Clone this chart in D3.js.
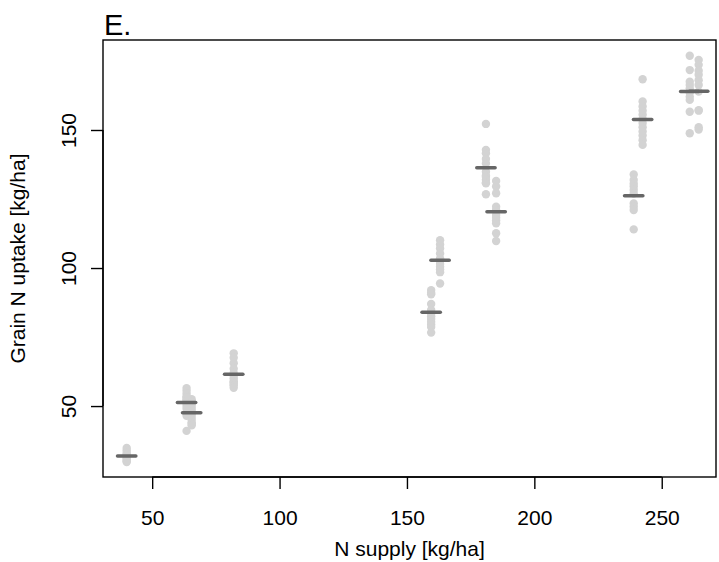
<!DOCTYPE html>
<html>
<head>
<meta charset="utf-8">
<script src="https://cdn.jsdelivr.net/npm/d3@7"></script>
<style>
  body { margin: 0; background: #fff; }
  svg { display: block; font-family: "Liberation Sans", Arial, sans-serif; }
</style>
</head>
<body>
<svg id="chart" width="719" height="562"></svg>
<script>
// N supply of each treatment group (x position)
var nSupply = [40, 63.5, 65.5, 82, 159.5, 163, 181, 185, 239, 242.5, 261, 264.5]

// grain N uptake of the replicates in each group
var uptake = [
  [34.8, 33.9, 33.0, 32.5, 32.0, 31.5, 31.0, 30.5, 30.0, 29.7],
  [56.5, 55.5, 54.5, 53.5, 53, 52.5, 52, 51, 50, 49, 46.5, 41],
  [52.5, 51, 51.5, 50, 49, 48, 47, 46, 45, 44, 43.5, 43],
  [69.1, 67.5, 65.5, 63.5, 62, 61, 60, 59, 58.5, 58, 57.5, 56.6],
  [92.0, 91, 90.5, 87.0, 84.8, 83.5, 82.5, 81.5, 80.5, 79.5, 78.6, 76.6],
  [110.1, 108.5, 107.1, 105.3, 103.5, 102.5, 101.5, 100.5, 99.5, 98.5, 94.4],
  [152.2, 142.8, 141.6, 139.5, 137.9, 134.9, 133.5, 133, 132, 131, 130.7, 126.7],
  [131.5, 129.5, 127.1, 122.2, 121, 119.2, 118.2, 117.2, 116.2, 112.6, 109.8],
  [133.9, 131.9, 130.5, 129.5, 128.3, 127, 123.4, 122.2, 121.0, 114.0],
  [168.4, 160.3, 158.5, 157, 155.5, 154, 152.5, 151, 149.5, 148, 146.3, 144.6],
  [176.9, 171.7, 167.5, 166.3, 165, 163.5, 162, 160.9, 156.6, 148.8],
  [175.4, 173.6, 171.5, 170, 168, 166.3, 163.9, 157.2, 157, 151, 150.2]
]

var xTicks = [50, 100, 150, 200, 250]
var yTicks = [50, 100, 150]

var fontSize = 21

var svg = d3.select('#chart')

var box = { left: 103, right: 716, top: 40, bottom: 477 }

var x = d3.scaleLinear().domain([30.7, 271.3]).range([box.left, box.right])
var y = d3.scaleLinear().domain([24.3, 182.6]).range([box.bottom, box.top])

var points = []
nSupply.forEach(function (n, i) {
  uptake[i].forEach(function (v) { points.push({ x: n, y: v }) })
})
var means = nSupply.map(function (n, i) {
  return { x: n, y: d3.mean(uptake[i]) }
})

// raw points
svg.append('g')
  .selectAll('circle')
  .data(points)
  .join('circle')
  .attr('cx', (d) => x(d.x))
  .attr('cy', (d) => y(d.y))
  .attr('r', 4.2)
  .attr('fill', '#d3d3d3')

// group means
svg.append('g')
  .selectAll('line')
  .data(means)
  .join('line')
  .attr('x1', (d) => x(d.x - 3.6))
  .attr('x2', (d) => x(d.x + 3.6))
  .attr('y1', (d) => y(d.y))
  .attr('y2', (d) => y(d.y))
  .attr('stroke', '#666666')
  .attr('stroke-width', 3.5)
  .attr('stroke-linecap', 'round')

// frame
svg.append('rect')
  .attr('x', box.left)
  .attr('y', box.top)
  .attr('width', box.right - box.left)
  .attr('height', box.bottom - box.top)
  .attr('fill', 'none')
  .attr('stroke', '#000')
  .attr('stroke-width', 1.4)

// x axis
var xAxis = d3.axisBottom(x).tickValues(xTicks).tickSize(12).tickPadding(21)
var gx = svg.append('g')
  .attr('transform', 'translate(0,' + box.bottom + ')')
  .call(xAxis)
gx.select('.domain')
  .attr('d', 'M' + x(xTicks[0]) + ',0H' + x(xTicks[xTicks.length - 1]))
  .attr('stroke-width', 1.4)
gx.selectAll('.tick line').attr('stroke-width', 1.4)
gx.selectAll('text')
  .attr('font-size', fontSize)
  .attr('font-family', '"Liberation Sans", Arial, sans-serif')
  .attr('fill', '#000')

// y axis
var yAxis = d3.axisLeft(y).tickValues(yTicks).tickSize(12)
var gy = svg.append('g')
  .attr('transform', 'translate(' + box.left + ',0)')
  .call(yAxis)
gy.select('.domain')
  .attr('d', 'M0,' + y(yTicks[0]) + 'V' + y(yTicks[yTicks.length - 1]))
  .attr('stroke-width', 1.4)
gy.selectAll('.tick line').attr('stroke-width', 1.4)
gy.selectAll('text')
  .attr('font-size', fontSize)
  .attr('font-family', '"Liberation Sans", Arial, sans-serif')
  .attr('fill', '#000')
  .attr('x', 0)
  .attr('dy', null)
  .attr('text-anchor', 'middle')
  .attr('transform', 'translate(-27.5,0) rotate(-90)')

// axis titles
svg.append('text')
  .attr('x', (box.left + box.right) / 2)
  .attr('y', 556)
  .attr('text-anchor', 'middle')
  .attr('font-size', fontSize)
  .text('N supply [kg/ha]')

svg.append('text')
  .attr('transform', 'translate(24.5,' + (box.top + box.bottom) / 2 + ') rotate(-90)')
  .attr('text-anchor', 'middle')
  .attr('font-size', fontSize)
  .text('Grain N uptake [kg/ha]')

// panel letter
svg.append('text')
  .attr('x', 104)
  .attr('y', 35)
  .attr('font-size', 29)
  .text('E.')
</script>
</body>
</html>
